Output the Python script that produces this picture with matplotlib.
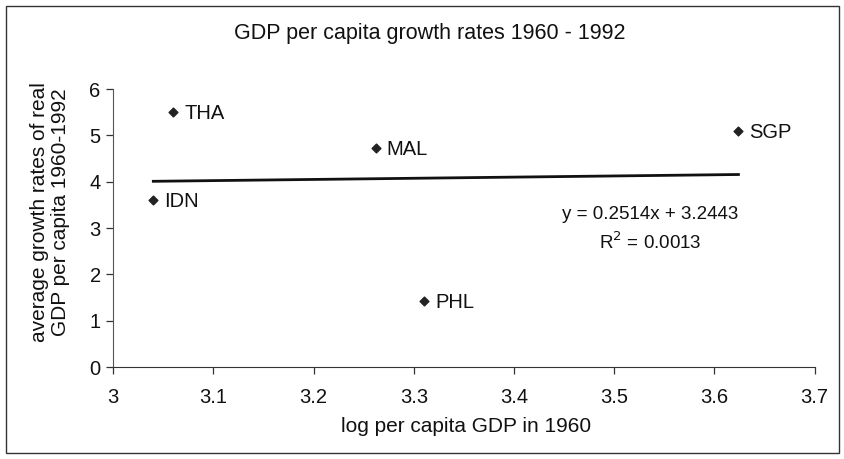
import matplotlib
matplotlib.use("Agg")
import matplotlib.pyplot as plt
from matplotlib.patches import Rectangle
import numpy as np

countries = ["IDN", "THA", "MAL", "PHL", "SGP"]
log_gdp_1960 = [3.04, 3.06, 3.262, 3.31, 3.624]
growth = [3.6, 5.5, 4.72, 1.42, 5.1]
slope = 0.2514
intercept = 3.2443
r2 = 0.0013
x_ticks = [3, 3.1, 3.2, 3.3, 3.4, 3.5, 3.6, 3.7]
y_ticks = [0, 1, 2, 3, 4, 5, 6]

plt.rcParams['font.family'] = ['Liberation Sans', 'DejaVu Sans']

fig = plt.figure(figsize=(8.45, 4.59), dpi=100)
ax = fig.add_axes([0.134, 0.2004, 0.830, 0.6056])

ax.scatter(log_gdp_1960, growth, marker='D', s=20, color='#222222', zorder=3)
for c, x, y in zip(countries, log_gdp_1960, growth):
    ax.annotate(c, (x, y), xytext=(8, -1), textcoords='offset points',
                fontsize=14.5, va='center', ha='left', color='#111111')

xl = np.array([min(log_gdp_1960), max(log_gdp_1960)])
ax.plot(xl, slope * xl + intercept, color='#111111', lw=2.0, zorder=2)

ax.text(0.766, 0.547, f"y = {slope}x + {intercept}", transform=ax.transAxes,
        fontsize=13.5, ha='center', va='center', color='#111111')
ax.text(0.766, 0.450, f"R$^{{2}}$ = {r2}", transform=ax.transAxes,
        fontsize=13.5, ha='center', va='center', color='#111111')

ax.set_xlim(3, 3.7)
ax.set_ylim(0, 6)
ax.set_xticks(x_ticks)
ax.set_xticklabels([f"{t:g}" for t in x_ticks])
ax.set_yticks(y_ticks)
for s in ['top', 'right']:
    ax.spines[s].set_visible(False)
ax.spines['left'].set_color('#555555')
ax.spines['bottom'].set_color('#333333')
ax.tick_params(axis='both', direction='out', length=5, width=0.9,
               labelsize=14.5, colors='#333333', labelcolor='#111111')
ax.tick_params(axis='x', pad=10)
ax.tick_params(axis='y', pad=4)

fig.text(0.509, 0.928, "GDP per capita growth rates 1960 - 1992",
         ha='center', va='center', fontsize=15.5, color='#111111')
fig.text(0.551, 0.070, "log per capita GDP in 1960",
         ha='center', va='center', fontsize=15, color='#111111')
fig.text(0.059, 0.538, "average growth rates of real\nGDP per capita 1960-1992",
         ha='center', va='center', rotation=90, fontsize=15, color='#111111',
         linespacing=1.12)

fig.patches.append(Rectangle((0.007, 0.013), 0.986, 0.974, transform=fig.transFigure,
                             fill=False, edgecolor='#333333', lw=1.0))

fig.savefig("out.png", dpi=100)
